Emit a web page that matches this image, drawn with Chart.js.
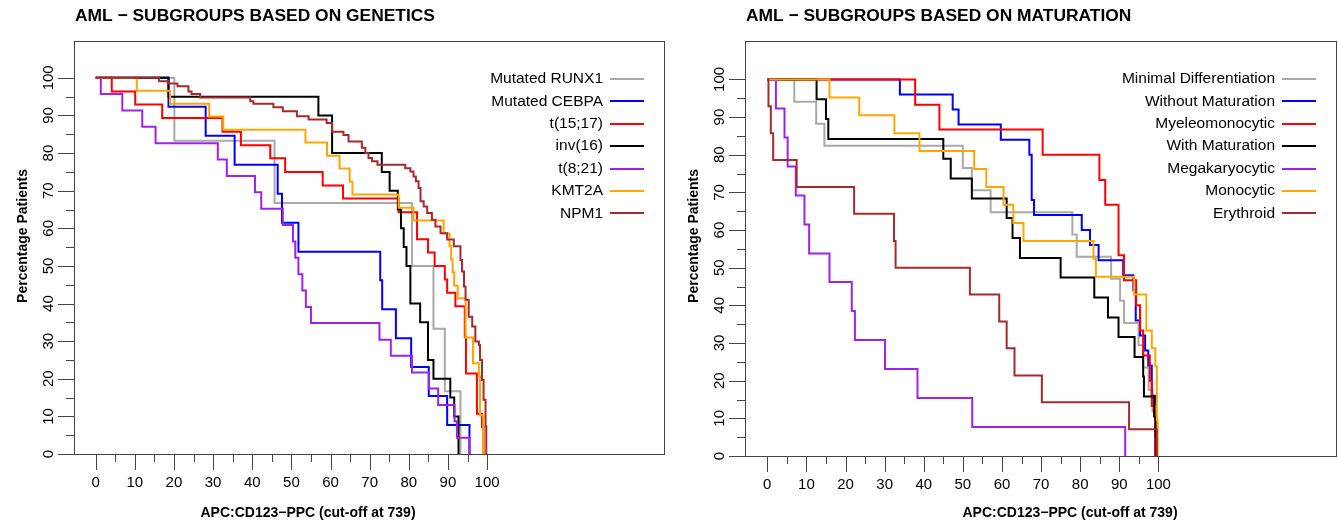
<!DOCTYPE html>
<html>
<head>
<meta charset="utf-8">
<script src="https://cdn.jsdelivr.net/npm/chart.js@4.4.1/dist/chart.umd.min.js"></script>
<style>
  body { margin: 0; background: #fff; }
  canvas { position: absolute; top: 0; }
  #geneticsChart { left: 0; }
  #maturationChart { left: 669px; }
</style>
</head>
<body>
<canvas id="geneticsChart" width="669" height="527"></canvas>
<canvas id="maturationChart" width="669" height="527"></canvas>
<script>
// tick positions and labels shared by both panels
var xTicks = [0, 5, 10, 15, 20, 25, 30, 35, 40, 45, 50, 55, 60, 65, 70, 75, 80, 85, 90, 95, 100];
var xTickLabels = ['0', '', '10', '', '20', '', '30', '', '40', '', '50', '', '60', '', '70', '', '80', '', '90', '', '100'];
var yTicks = [0, 5, 10, 15, 20, 25, 30, 35, 40, 45, 50, 55, 60, 65, 70, 75, 80, 85, 90, 95, 100];
var yTickLabels = ['0', '', '10', '', '20', '', '30', '', '40', '', '50', '', '60', '', '70', '', '80', '', '90', '', '100'];

// ---- left panel: subgroups based on genetics ([cut-off value, % patients]) ----
var geneticsLabels = ['Mutated RUNX1', 'Mutated CEBPA', 't(15;17)', 'inv(16)', 't(8;21)', 'KMT2A', 'NPM1'];
var geneticsColors = ['#a9a9a9', '#0000ff', '#ff0000', '#000000', '#a020f0', '#ffa500', '#a52a2a'];

var runx1 = [[0, 100], [20.1, 83.3], [45.7, 66.7], [80.8, 50], [86.3, 33.3], [89.2, 16.7], [93.2, 0]];
var cebpa = [[0, 100], [18.6, 92.3], [28.1, 84.6], [35.5, 76.9], [46.5, 69.2], [47.6, 61.5], [51.8, 53.8],
  [72.7, 46.2], [73.2, 38.5], [76.7, 30.8], [80.6, 23.1], [85.1, 15.4], [89.8, 7.7], [95.5, 0]];
var t1517 = [[0, 100], [4.1, 96.4], [10.1, 92.9], [17, 89.3], [32.4, 85.7], [37.1, 82.1], [44.6, 78.6],
  [48.4, 75], [58, 71.4], [63.2, 67.9], [77.4, 64.3], [82.1, 57.1], [84.9, 53.6], [86.6, 50], [89.2, 46.4],
  [89.8, 42.9], [91.9, 39.3], [94.3, 31.2], [94.6, 21.4], [97.4, 10.7], [98.7, 7.1], [99.1, 0]];
var inv16 = [[0, 100], [18.6, 95], [56.9, 90], [60.4, 80], [73.1, 75], [75.1, 70], [77.2, 65], [78, 60],
  [78.7, 55], [79.4, 50], [80.4, 40], [82.9, 35], [84.9, 25], [86.3, 20], [90.6, 15], [91.6, 10], [92.7, 0]];
var t821 = [[0, 100], [1.3, 95.7], [6.8, 91.3], [11.9, 87], [15.3, 82.6], [31.2, 78.3], [33.5, 73.9],
  [40.7, 69.6], [42.3, 65.2], [47.8, 60.9], [50.4, 56.5], [51, 52.2], [51.8, 47.8], [52.8, 43.5],
  [53.7, 39.1], [55, 34.8], [72.5, 30.4], [75.4, 26.1], [80.8, 21.7], [85.1, 17.4], [87.5, 13],
  [91.7, 8.7], [92.3, 4.3], [95.5, 0]];
var kmt2a = [[0, 100], [10.5, 96.6], [19, 93.1], [29, 89.7], [32.6, 86.2], [53.6, 82.8], [59.1, 79.3],
  [62.3, 75.9], [64.9, 72.4], [65.6, 69], [77.4, 65.5], [81.2, 62.1], [88.9, 58.6], [90.4, 55.2],
  [90.8, 51.7], [91.2, 48.3], [91.6, 44.8], [92.5, 41.4], [94.5, 31], [96.4, 24.1], [97.9, 20.7],
  [98.2, 10.3], [99, 0]];
var npm1 = [[0, 100], [16.2, 99.1], [18.6, 98.5], [20.9, 97.8], [23.7, 96.4], [24.5, 95.7], [26.7, 94.8],
  [39.5, 93.8], [40.3, 93.1], [45.4, 92.2], [47.8, 91.1], [51.4, 89.8], [54.4, 88.9], [59, 88],
  [60.4, 85.7], [63.3, 84.8], [64.6, 83.1], [68, 81.4], [68.9, 80], [69.7, 78.7], [70.6, 77.8],
  [72, 76.9], [79.1, 76], [80.4, 75.1], [81.2, 73.8], [81.8, 72.5], [82.5, 70.7], [83, 67.2],
  [83.8, 65.8], [84.7, 64.1], [85.9, 62.3], [86.8, 60.5], [88.1, 58.7], [89.8, 57], [91.5, 55.2],
  [93.2, 51.6], [93.6, 48.5], [94.1, 44.5], [94.5, 41], [95.3, 36.5], [96.2, 33.9], [97, 29.9],
  [97.9, 29], [98.2, 25], [98.7, 19.7], [99.1, 14.4], [99.6, 7.3], [99.8, 0]];

// ---- right panel: subgroups based on maturation ----
var maturationLabels = ['Minimal Differentiation', 'Without Maturation', 'Myeleomonocytic', 'With Maturation',
  'Megakaryocytic', 'Monocytic', 'Erythroid'];
var maturationColors = ['#a9a9a9', '#0000ff', '#ff0000', '#000000', '#a020f0', '#ffa500', '#a52a2a'];

var minDiff = [[0, 100], [6.9, 94.1], [12.5, 88.2], [14.6, 82.4], [50, 76.5], [52.3, 70.6], [57.1, 64.7],
  [78, 58.8], [79.1, 52.9], [87.9, 47.1], [90.2, 41.2], [91.2, 35.3], [94.9, 29.4], [96.1, 23.5],
  [97.5, 17.6], [98.5, 11.8], [99.2, 5.9], [99.6, 0]];
var withoutMat = [[0, 100], [33.9, 96], [47.4, 92], [48.9, 88], [59.7, 84], [67, 80], [67.6, 68], [68.2, 64],
  [80.4, 60], [82.5, 56], [84.7, 52], [91, 48], [93.6, 44], [94.2, 36], [95.3, 32], [96.6, 28],
  [97.4, 24], [98.3, 16], [99.2, 0]];
var myelomono = [[0, 100], [37.8, 93.3], [44, 86.7], [70.4, 80], [84.9, 73.3], [86.4, 66.7], [89.8, 53.3],
  [91.2, 46.7], [94.3, 40], [95.3, 33.3], [96.1, 26.7], [97.8, 20], [98.3, 13.3], [99.2, 0]];
var withMat = [[0, 100], [12.6, 94.7], [15, 89.5], [15.6, 84.2], [45, 78.9], [46.9, 73.7], [52.3, 68.4],
  [61.2, 63.2], [62.7, 57.9], [64.6, 52.6], [75, 47.4], [83.6, 42.1], [87.1, 36.8], [89.8, 31.6],
  [93.9, 26.3], [96.1, 21.1], [96.3, 15.8], [98.9, 10.5], [99.3, 5.3], [99.5, 0]];
var megak = [[0, 100], [2.2, 92.3], [4.4, 84.6], [5.2, 76.9], [7.3, 69.2], [9.5, 61.5], [10.7, 53.8],
  [15.9, 46.2], [21.6, 38.5], [22.4, 30.8], [30.1, 23.1], [38.4, 15.4], [52.4, 7.7], [91.5, 0]];
var monocytic = [[0, 100], [15.9, 95.2], [23.5, 90.5], [32.5, 85.7], [38.9, 81], [52.9, 76.2], [56, 71.4],
  [60.4, 66.7], [62.9, 61.9], [65.5, 57.1], [83.4, 52.4], [84, 47.6], [93.8, 42.9], [96.9, 33.3],
  [98.3, 28.6], [99.2, 23.8], [99.6, 9.5], [99.8, 0]];
var erythroid = [[0, 100], [0.3, 92.9], [0.9, 85.7], [1.5, 78.6], [7.5, 71.4], [22.2, 64.3], [32.4, 57.1],
  [32.8, 50], [51.8, 42.9], [59.3, 35.7], [61.2, 28.6], [63.2, 21.4], [70.2, 14.3], [92.5, 7.1], [99.6, 0]];

var FONT = '"Liberation Sans", Arial, sans-serif';

// R-style frame, tick marks, legend and titles drawn on top of the chart
function rDecorations(p) {
  return {
    id: 'rDecorations',
    afterDraw: function (chart) {
      var ctx = chart.ctx, a = chart.chartArea;
      var xs = chart.scales.x, ys = chart.scales.y;
      ctx.save();
      ctx.strokeStyle = '#444';
      ctx.lineWidth = 1;
      ctx.strokeRect(Math.round(a.left) + 0.5, Math.round(a.top) + 0.5,
        Math.round(a.right - a.left), Math.round(a.bottom - a.top));

      ctx.beginPath();
      ctx.moveTo(Math.round(a.left) - 14, Math.round(a.bottom) + 0.5);
      ctx.lineTo(Math.round(a.left), Math.round(a.bottom) + 0.5);
      xTicks.forEach(function (v, i) {
        var px = Math.round(xs.getPixelForValue(v)) + 0.5;
        var len = xTickLabels[i] ? 16 : 8;
        ctx.moveTo(px, Math.round(a.bottom));
        ctx.lineTo(px, Math.round(a.bottom) + len);
      });
      yTicks.forEach(function (v, i) {
        var py = Math.round(ys.getPixelForValue(v)) + 0.5;
        var len = yTickLabels[i] ? 16 : 8;
        ctx.moveTo(Math.round(a.left), py);
        ctx.lineTo(Math.round(a.left) - len, py);
      });
      ctx.stroke();

      // legend: label then a short line, like R's legend()
      ctx.font = '15.5px ' + FONT;
      ctx.textAlign = 'right';
      ctx.textBaseline = 'middle';
      p.labels.forEach(function (lab, i) {
        var y = a.top + 38 + i * 22.4;
        ctx.fillStyle = '#000';
        ctx.fillText(lab, a.right - 61, y);
        ctx.strokeStyle = p.colors[i];
        ctx.lineWidth = 2;
        ctx.beginPath();
        ctx.moveTo(a.right - 54, Math.round(y));
        ctx.lineTo(a.right - 20, Math.round(y));
        ctx.stroke();
      });

      // titles
      ctx.fillStyle = '#000';
      ctx.textAlign = 'left';
      ctx.font = 'bold 17.4px ' + FONT;
      ctx.fillText(p.title, a.left + 1, 16);

      ctx.font = 'bold 14px ' + FONT;
      ctx.textAlign = 'center';
      ctx.fillText('APC:CD123\u2212PPC (cut-off at 739)', p.xTitleX, 513);

      ctx.translate(p.yTitleX, 236);
      ctx.rotate(-Math.PI / 2);
      ctx.fillText('Percentage Patients', 0, 0);
      ctx.restore();
    }
  };
}

function buildPanel(id, p) {
  var ctx = document.getElementById(id).getContext('2d');
  var datasets = p.series.map(function (pts, i) {
    return {
      label: p.labels[i],
      data: pts.map(function (d) { return { x: d[0], y: d[1] }; }),
      borderColor: p.colors[i],
      backgroundColor: p.colors[i],
      borderWidth: 2,
      pointRadius: 0,
      stepped: true,
      fill: false,
      order: p.series.length - i
    };
  });

  return new Chart(ctx, {
    type: 'line',
    data: { datasets: datasets },
    options: {
      responsive: false,
      animation: false,
      devicePixelRatio: 1,
      layout: { padding: { left: 0, top: 41, right: p.padRight, bottom: 0 } },
      plugins: {
        legend: { display: false },
        tooltip: { enabled: false },
        title: { display: false }
      },
      scales: {
        x: {
          type: 'linear',
          min: p.xMin,
          max: p.xMax,
          grid: { display: false, drawTicks: false },
          border: { display: false },
          afterBuildTicks: function (s) { s.ticks = xTicks.map(function (v) { return { value: v }; }); },
          afterFit: function (s) { s.height = p.xHeight; },
          ticks: {
            autoSkip: false, maxRotation: 0, padding: 20, color: '#000',
            font: { family: FONT, size: 15 },
            callback: function (v, i) { return xTickLabels[i]; }
          }
        },
        y: {
          type: 'linear',
          min: 0,
          max: p.yMax,
          grid: { display: false, drawTicks: false },
          border: { display: false },
          afterBuildTicks: function (s) { s.ticks = yTicks.map(function (v) { return { value: v }; }); },
          afterFit: function (s) { s.width = p.yWidth; },
          ticks: {
            autoSkip: false, minRotation: 90, maxRotation: 90, crossAlign: 'center',
            padding: 13, color: '#000',
            font: { family: FONT, size: 15 },
            callback: function (v, i) { return yTickLabels[i]; }
          }
        }
      }
    },
    plugins: [rDecorations(p)]
  });
}

buildPanel('geneticsChart', {
  series: [runx1, cebpa, t1517, inv16, t821, kmt2a, npm1],
  labels: geneticsLabels, colors: geneticsColors,
  title: 'AML \u2212 SUBGROUPS BASED ON GENETICS', xTitleX: 308, yTitleX: 23,
  xMin: -5.54, xMax: 145.2, yMax: 109.8, yWidth: 74, xHeight: 73, padRight: 5
});

buildPanel('maturationChart', {
  series: [minDiff, withoutMat, myelomono, withMat, megak, monocytic, erythroid],
  labels: maturationLabels, colors: maturationColors,
  title: 'AML \u2212 SUBGROUPS BASED ON MATURATION', xTitleX: 401, yTitleX: 25,
  xMin: -5.7, xMax: 145.4, yMax: 110.2, yWidth: 76, xHeight: 71, padRight: 2
});
</script>
</body>
</html>
